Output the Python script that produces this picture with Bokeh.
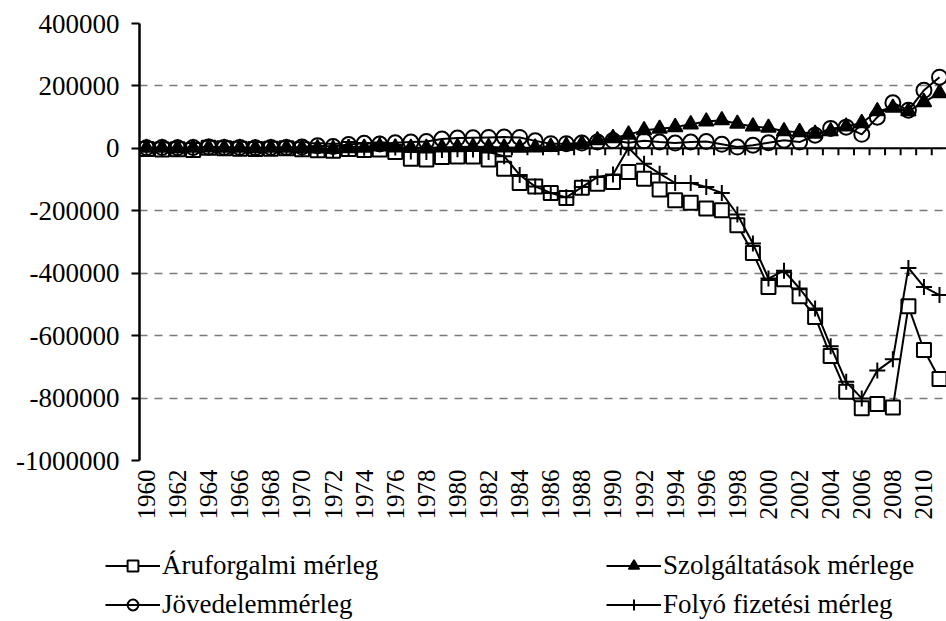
import numpy as np
from bokeh.plotting import figure
from bokeh.layouts import column
from bokeh.models import Range1d, FixedTicker, Span, Legend, LegendItem
from bokeh.embed import file_html
from bokeh.resources import INLINE

years = list(range(1960, 2012))

aru = [-2000, -4000, -3000, -5000, 2000, 0, -1000, -2000, -1000, 0,
       -3000, -6000, -8000, -2000, -5000, -4000, -12000, -33000, -36000, -28000,
       -26000, -26000, -36000, -65000, -111000, -122000, -143000, -159000, -126000, -113000,
       -108000, -76000, -97000, -132000, -166000, -174000, -193000, -198000, -246000, -335000,
       -444000, -419000, -474000, -540000, -665000, -780000, -833000, -819000, -830000, -506000,
       -646000, -739000]

szolg = [2000, 2000, 1000, 2000, 3000, 2000, 2000, 1000, 2000, 2000,
         1000, 0, -2000, 1000, 2000, 6000, 3000, 2000, 2000, 3000,
         4000, 5000, 4000, 3000, 2000, 3000, 5000, 8000, 15000, 26000,
         33000, 44000, 58000, 63000, 68000, 77000, 86000, 90000, 79000, 70000,
         66000, 55000, 52000, 47000, 55000, 70000, 81000, 119000, 130000, 119000,
         148000, 177000]

jov = [2000, 3000, 2000, 3000, 4000, 3000, 3000, 2000, 3000, 3000,
       4000, 8000, 6000, 12000, 16000, 14000, 18000, 20000, 22000, 30000,
       33000, 34000, 35000, 36000, 35000, 24000, 15000, 15000, 17000, 20000,
       25000, 18000, 24000, 20000, 17000, 20000, 22000, 13000, 4000, 10000,
       18000, 26000, 20000, 42000, 64000, 68000, 45000, 100000, 146000, 122000,
       186000, 228000]

folyo = [0, -1000, 0, -2000, 3000, 2000, 1000, 0, 1000, 2000,
         0, -2000, -4000, 4000, 2000, 15000, 3000, -10000, -12000, -5000,
         -3000, -4000, -12000, -25000, -85000, -122000, -143000, -157000, -124000, -92000,
         -84000, 2000, -49000, -81000, -111000, -111000, -124000, -143000, -212000, -305000,
         -417000, -392000, -449000, -513000, -634000, -748000, -801000, -712000, -676000, -383000,
         -444000, -470000]

y_ticks = [400000, 200000, 0, -200000, -400000, -600000, -800000, -1000000]
x_label_years = list(range(1960, 2011, 2))
labels = ["Áruforgalmi mérleg", "Szolgáltatások mérlege", "Jövedelemmérleg", "Folyó fizetési mérleg"]

FONT = "Liberation Serif"

p = figure(width=946, height=540, output_backend="svg", toolbar_location=None,
           x_range=Range1d(1959.55, 2011.45), y_range=Range1d(-1000000, 400000),
           min_border_left=139, min_border_right=0, min_border_top=23, min_border_bottom=80)
p.outline_line_color = None
p.background_fill_color = "white"

# grid
p.xgrid.grid_line_color = None
p.ygrid.ticker = FixedTicker(ticks=y_ticks)
p.ygrid.grid_line_color = "#7a7a7a"
p.ygrid.grid_line_width = 1.5
p.ygrid.grid_line_dash = "8 7"

# y axis
p.yaxis.ticker = FixedTicker(ticks=y_ticks)
p.yaxis.major_label_overrides = {v: str(v) for v in y_ticks}
p.yaxis.axis_line_width = 2.5
p.yaxis.axis_line_color = "black"
p.yaxis.major_tick_out = 8
p.yaxis.major_tick_in = 0
p.yaxis.major_tick_line_width = 2
p.yaxis.minor_tick_line_color = None
p.yaxis.major_label_text_font = FONT
p.yaxis.major_label_text_font_size = "27px"
p.yaxis.major_label_text_color = "black"
p.yaxis.major_label_standoff = 12

# x axis (labels only, at bottom)
p.xaxis.ticker = FixedTicker(ticks=x_label_years)
p.xaxis.axis_line_color = None
p.xaxis.major_tick_line_color = None
p.xaxis.major_tick_out = 0
p.xaxis.major_tick_in = 0
p.xaxis.minor_tick_line_color = None
p.xaxis.minor_tick_out = 0
p.xaxis.minor_tick_in = 0
p.xaxis.major_label_orientation = np.pi / 2
p.xaxis.major_label_standoff = 9
p.xaxis.major_label_text_font = FONT
p.xaxis.major_label_text_font_size = "25px"
p.xaxis.major_label_text_color = "black"

# zero line with category-boundary ticks
zero_line = Span(location=0, dimension="width", line_color="black", line_width=2, level="underlay")
p.add_layout(zero_line)
bounds = [y - 0.5 for y in years] + [years[-1] + 0.5]
tick_len = 7 * (1400000 / 437)
p.segment(x0=bounds, y0=[0] * len(bounds), x1=bounds, y1=[-tick_len] * len(bounds),
          line_color="black", line_width=2)

styles = [
    dict(marker="square", size=14, fill_color="white", line_color="black", line_width=2),
    dict(marker="triangle", size=15, fill_color="black", line_color="black", line_width=1.5),
    dict(marker="circle", size=15, fill_color=None, line_color="black", line_width=2),
    dict(marker="cross", size=16, line_color="black", line_width=2),
]
series = [aru, szolg, jov, folyo]

for vals, st in zip(series, styles):
    p.line(years, vals, line_color="black", line_width=2)
    p.scatter(years, vals, **st)

# legend in its own strip below the chart (its ranges keep the series out of view)
lg = figure(width=946, height=81, output_backend="svg", toolbar_location=None,
            x_range=Range1d(0, 1), y_range=Range1d(0, 1),
            x_axis_location=None, y_axis_location=None,
            min_border_left=0, min_border_right=0, min_border_top=0, min_border_bottom=0)
lg.outline_line_color = None
lg.xgrid.grid_line_color = None
lg.ygrid.grid_line_color = None

leg_x = 105
try:
    p.frame_align = False
    lg.frame_align = False
except Exception:
    leg_x = 105 - 139

leg_rends = []
for vals, st in zip(series, styles):
    lr = lg.line(years, vals, line_color="black", line_width=2)
    sr = lg.scatter(years, vals, **st)
    leg_rends.append([lr, sr])

rows = [(0, 1, 40.5), (2, 3, 1.5)]
for a, b, ypos in rows:
    legend = Legend(items=[LegendItem(label=labels[a], renderers=leg_rends[a]),
                           LegendItem(label=labels[b], renderers=leg_rends[b])],
                    location=(leg_x, ypos), orientation="horizontal",
                    border_line_color=None, background_fill_alpha=0,
                    padding=0, margin=0, spacing=12, glyph_width=55, glyph_height=27,
                    label_standoff=2, label_height=27, label_width=432,
                    label_text_font=FONT, label_text_font_size="27px", label_text_color="black")
    lg.add_layout(legend)

layout = column(p, lg, spacing=0)
open("out.html", "w").write(file_html(layout, INLINE))
